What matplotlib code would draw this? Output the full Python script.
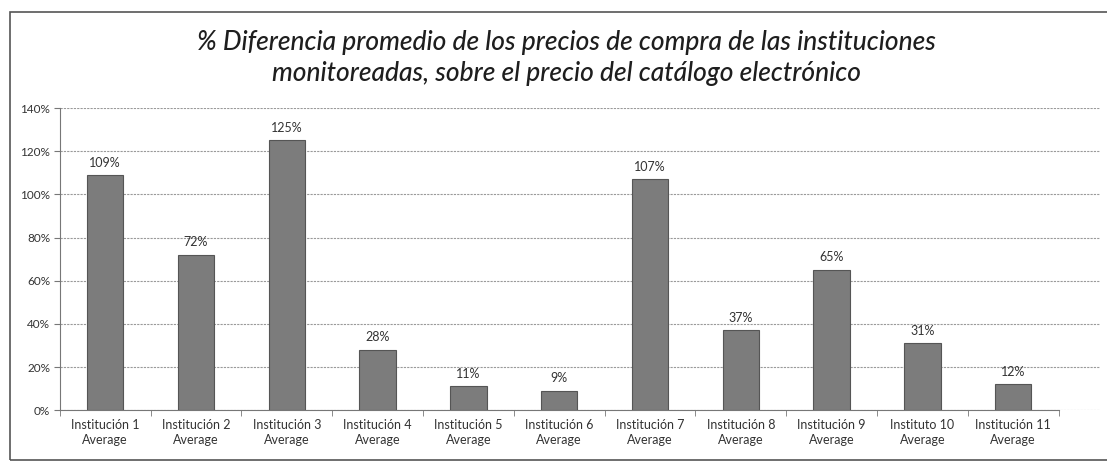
import matplotlib.pyplot as plt
import matplotlib.patches as patches
import numpy as np

# Data
categorias = ["Institución 1", "Institución 2", "Institución 3", "Institución 4",
              "Institución 5", "Institución 6", "Institución 7", "Institución 8",
              "Institución 9", "Instituto 10", "Institución 11"]
diferencia = [109, 72, 125, 28, 11, 9, 107, 37, 65, 31, 12]
y_ticks = [0, 20, 40, 60, 80, 100, 120, 140]

titulo = ("% Diferencia promedio de los precios de compra de las instituciones\n"
          "monitoreadas, sobre el precio del catálogo electrónico")

plt.rcParams['font.family'] = ['Lato', 'DejaVu Sans']

fig = plt.figure(figsize=(11.07, 4.72), dpi=100)
ax = fig.add_axes([0.054, 0.131, 0.94, 0.64])

x = np.arange(len(categorias))
ax.bar(x, diferencia, width=0.4, color='#7c7c7c', edgecolor='#555555',
       linewidth=0.8, zorder=3)

for xi, v in zip(x, diferencia):
    ax.text(xi, v + 3, f"{v}%", ha='center', va='bottom', fontsize=9,
            color='#333333')

ax.set_ylim(0, 140)
ax.set_xlim(-0.5, 10.96)
ax.set_yticks(y_ticks)
ax.set_yticklabels([f"{t}%" for t in y_ticks], fontsize=8.5, color='#333333')
ax.yaxis.grid(True, color='#9a9a9a', linestyle=(0, (2, 1)), linewidth=0.8)
ax.set_axisbelow(True)

ax.set_xticks(x)
ax.set_xticklabels([c + "\nAverage" for c in categorias], fontsize=9,
                   color='#333333', linespacing=1.3)
ax.tick_params(axis='x', which='major', length=0, pad=6)
ax.set_xticks(np.arange(-0.5, 11, 1), minor=True)
ax.tick_params(axis='x', which='minor', length=4, color='#777777')
ax.tick_params(axis='y', length=4, color='#777777', pad=3)

for s in ['top', 'right']:
    ax.spines[s].set_visible(False)
ax.spines['left'].set_color('#777777')
ax.spines['bottom'].set_color('#777777')
ax.spines['bottom'].set_bounds(-0.5, 10.5)

fig.text(0.512, 0.877, titulo, ha='center', va='center', fontsize=19,
         style='italic', fontweight='medium', color='#1e1e1e',
         linespacing=1.3)

# outer chart border (open to the right, as in the scan)
borde = patches.Rectangle((0.009, 0.025), 1.0, 0.95, transform=fig.transFigure,
                          fill=False, edgecolor='#555555', linewidth=1.2)
fig.add_artist(borde)

fig.savefig("out.png", dpi=100)
